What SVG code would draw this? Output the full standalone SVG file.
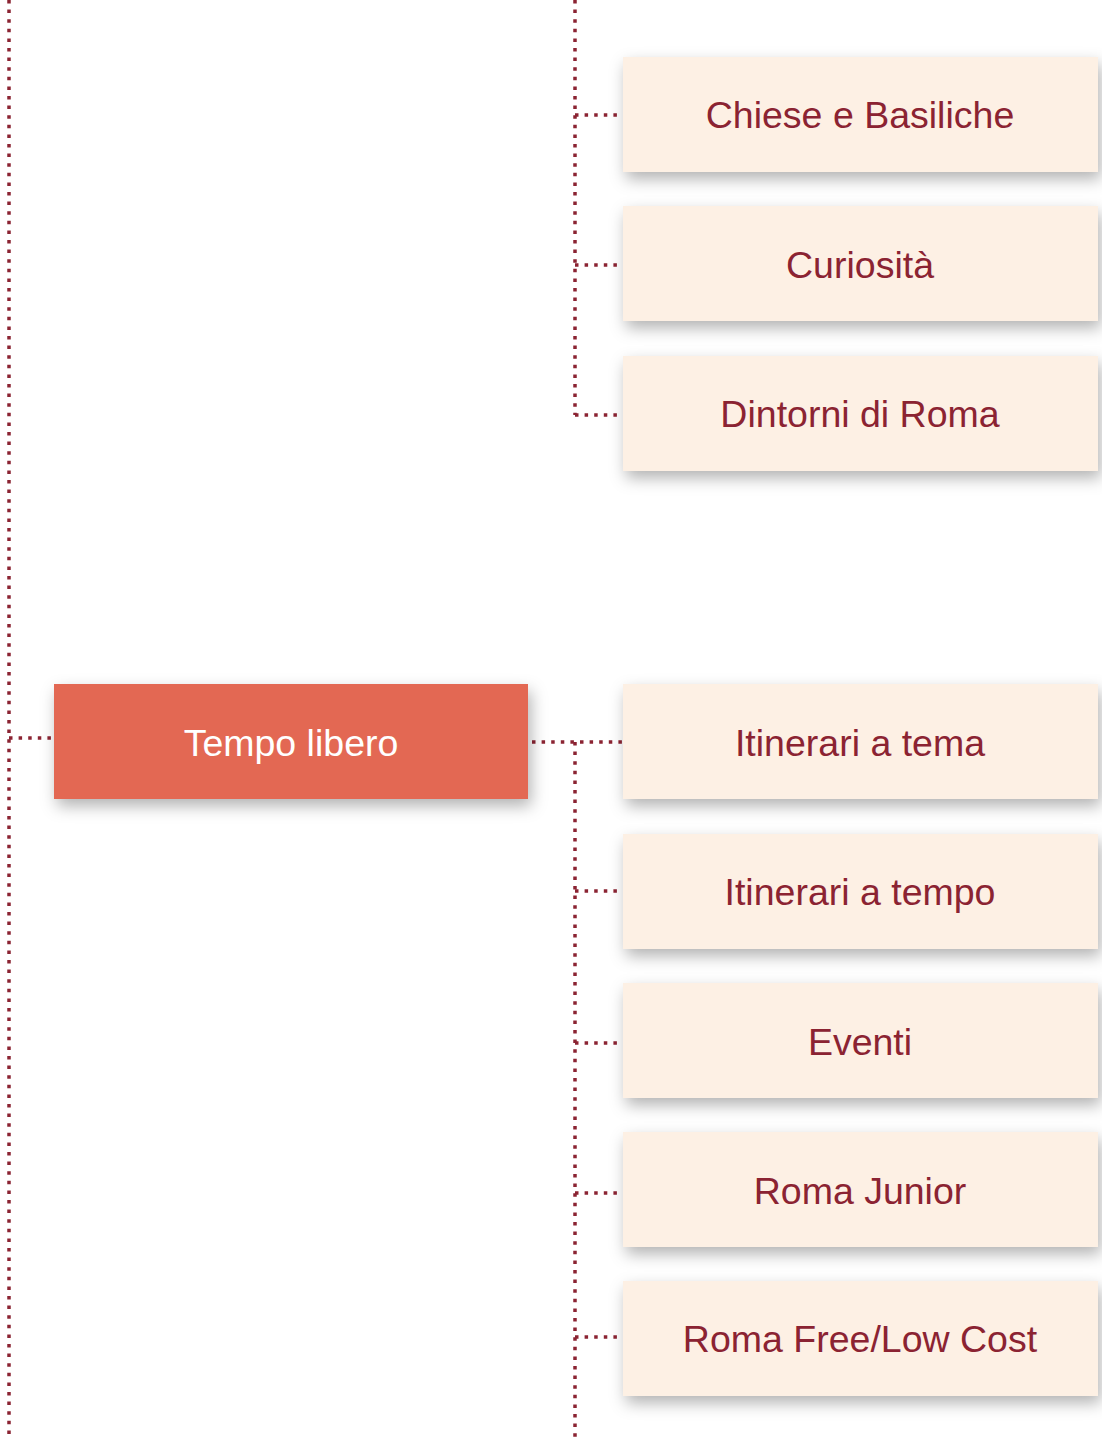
<svg xmlns="http://www.w3.org/2000/svg" width="1102" height="1440" viewBox="0 0 1102 1440">
<style>
.c{fill:none;stroke:#8B2332;stroke-width:3.5;stroke-dasharray:3.5 6.1}
.n rect{fill:#FDF0E4;filter:url(#sh)}
.n text{font-family:"Liberation Sans",Arial,sans-serif;font-size:37.5px;fill:#8B2332;text-anchor:middle}
.m rect{fill:#E36752;filter:url(#sh)}
.m text{font-family:"Liberation Sans",Arial,sans-serif;font-size:37.5px;fill:#FFFFFF;text-anchor:middle}
</style>
<defs>
<filter id="sh" x="-10%" y="-25%" width="125%" height="160%">
<feDropShadow dx="3" dy="7" stdDeviation="8" flood-color="#000" flood-opacity="0.3"/>
</filter>
</defs>
<rect width="1102" height="1440" fill="#FFFFFF"/>
<g id="connectors">
<path class="c" d="M9 0V1440"/>
<path class="c" d="M9 738H52"/>
<path class="c" d="M575 0V415"/>
<path class="c" d="M575 115H621M575 265H621M575 415H621"/>
<path class="c" d="M532 742H623"/>
<path class="c" d="M575 742V1440"/>
<path class="c" d="M575 891H621M575 1043H621M575 1193H623M575 1337H621"/>
</g>
<g id="n-chiese" class="n"><rect x="623" y="57" width="475" height="115"/><text x="860" y="128">Chiese e Basiliche</text></g>
<g id="n-curiosita" class="n"><rect x="623" y="206" width="475" height="115"/><text x="860" y="278">Curiosità</text></g>
<g id="n-dintorni" class="n"><rect x="623" y="356" width="475" height="115"/><text x="860" y="427">Dintorni di Roma</text></g>
<g id="n-tempo" class="m"><rect x="54" y="684" width="474" height="115"/><text x="291" y="756">Tempo libero</text></g>
<g id="n-tema" class="n"><rect x="623" y="684" width="475" height="115"/><text x="860" y="756">Itinerari a tema</text></g>
<g id="n-tempo2" class="n"><rect x="623" y="834" width="475" height="115"/><text x="860" y="905">Itinerari a tempo</text></g>
<g id="n-eventi" class="n"><rect x="623" y="983" width="475" height="115"/><text x="860" y="1055">Eventi</text></g>
<g id="n-junior" class="n"><rect x="623" y="1132" width="475" height="115"/><text x="860" y="1204">Roma Junior</text></g>
<g id="n-free" class="n"><rect x="623" y="1281" width="475" height="115"/><text x="860" y="1352">Roma Free/Low Cost</text></g>
</svg>
